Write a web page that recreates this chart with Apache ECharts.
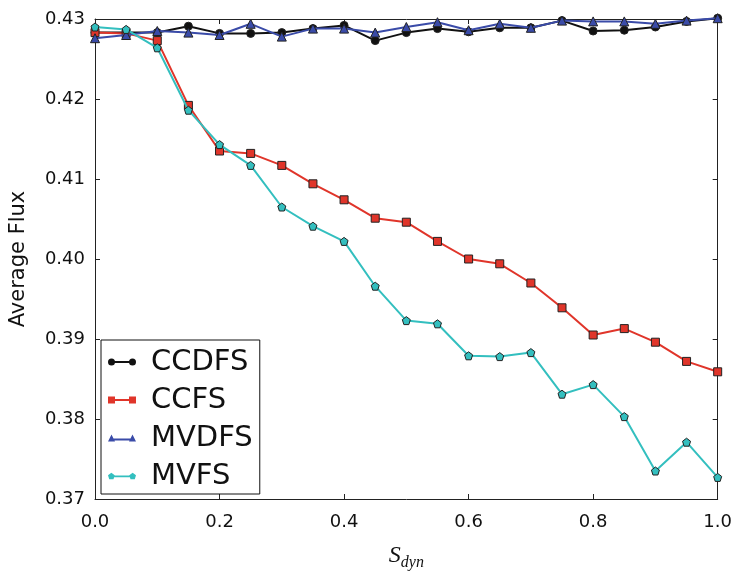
<!DOCTYPE html>
<html>
<head>
<meta charset="utf-8">
<script src="https://cdn.jsdelivr.net/npm/echarts@6/dist/echarts.min.js"></script>
<style>html,body{margin:0;padding:0;background:#fff;}#c{width:735px;height:576px;}</style>
</head>
<body>
<div id="c"></div>
<script>
var sDyn = [0.0,0.05,0.10,0.15,0.20,0.25,0.30,0.35,0.40,0.45,0.50,0.55,0.60,0.65,0.70,0.75,0.80,0.85,0.90,0.95,1.0];
var ccdfs = [0.4283,0.4283,0.4283,0.4291,0.4282,0.4282,0.4283,0.4288,0.4292,0.4273,0.4283,0.4288,0.4284,0.4289,0.4289,0.4298,0.4285,0.4286,0.4290,0.4297,0.4301];
var ccfs  = [0.4283,0.4282,0.4273,0.4192,0.4135,0.4132,0.4117,0.4094,0.4074,0.4051,0.4046,0.4022,0.4000,0.3994,0.3970,0.3939,0.3905,0.3913,0.3896,0.3872,0.3859];
var mvdfs = [0.4276,0.4280,0.4285,0.4283,0.4280,0.4294,0.4278,0.4288,0.4288,0.4283,0.4290,0.4296,0.4286,0.4294,0.4289,0.4298,0.4297,0.4297,0.4294,0.4298,0.4301];
var mvfs  = [0.4290,0.4287,0.4264,0.4186,0.4143,0.4117,0.4065,0.4041,0.4022,0.3966,0.3923,0.3919,0.3879,0.3878,0.3883,0.3831,0.3843,0.3803,0.3735,0.3771,0.3727];
var seriesNames = ['CCDFS','CCFS','MVDFS','MVFS'];
var xTicks = [0.0,0.2,0.4,0.6,0.8,1.0];
var yTicks = [0.37,0.38,0.39,0.40,0.41,0.42,0.43];

var colors = ['#111111','#e0352a','#3a4ba8','#33bfbf'];
var pent = 'path://M0,-1 L0.951,-0.309 L0.588,0.809 L-0.588,0.809 L-0.951,-0.309 Z';
var symbols = ['circle','rect','triangle',pent];
var sizes = [8,8,9,8];
var icons = [
  'path://M0,3.5 A3.5,3.5 0 1,1 7,3.5 A3.5,3.5 0 1,1 0,3.5 Z M3.5,2.6 L24.5,2.6 L24.5,4.4 L3.5,4.4 Z M21,3.5 A3.5,3.5 0 1,1 28,3.5 A3.5,3.5 0 1,1 21,3.5 Z',
  'path://M0,0 L7,0 L7,7 L0,7 Z M7,2.6 L21,2.6 L21,4.4 L7,4.4 Z M21,0 L28,0 L28,7 L21,7 Z',
  'path://M0,7 L3.5,0 L7,7 Z M5,4.1 L23,4.1 L23,5.9 L5,5.9 Z M21,7 L24.5,0 L28,7 Z',
  'path://M3.5,0 L6.8,2.4 L5.6,6.3 L1.4,6.3 L0.2,2.4 Z M3.5,2.6 L24.5,2.6 L24.5,4.4 L3.5,4.4 Z M24.5,0 L27.8,2.4 L26.6,6.3 L22.4,6.3 L21.2,2.4 Z'
];
var values = [ccdfs, ccfs, mvdfs, mvfs];

var series = seriesNames.map(function(n, i){
  return {
    name: n, type: 'line', clip: false,
    data: sDyn.map(function(x, j){ return [x, values[i][j]]; }),
    symbol: symbols[i], symbolSize: sizes[i], showSymbol: true,
    lineStyle: {color: colors[i], width: 2},
    itemStyle: {color: colors[i], borderColor: '#222', borderWidth: 1},
    emphasis: {disabled: true},
    z: 2 + i
  };
});

var tickFont = {fontFamily: 'DejaVu Sans', fontSize: 18, color: '#111'};
var chart = echarts.init(document.getElementById('c'), null, {renderer: 'canvas'});
chart.setOption({
  animation: false,
  backgroundColor: '#fff',
  grid: {left: 93, right: 15.5, top: 19, bottom: 73, containLabel: false},
  legend: {
    orient: 'vertical', left: 101, top: 340,
    data: seriesNames.map(function(n, i){ return {name: n, icon: icons[i]}; }),
    itemWidth: 28, itemHeight: 7, itemGap: 8,
    backgroundColor: '#fff', borderColor: '#111', borderWidth: 1, borderRadius: 0,
    padding: [7, 7, 3, 7],
    itemStyle: {borderWidth: 0},
    lineStyle: {width: 0},
    textStyle: {fontFamily: 'DejaVu Sans', fontSize: 29, color: '#111', lineHeight: 30, padding: [0,0,0,10]},
    z: 10
  },
  xAxis: [{
    type: 'value', min: 0, max: 1, interval: 0.2, position: 'bottom',
    name: '{s|S}{d|dyn}', nameLocation: 'middle', nameGap: 42,
    nameTextStyle: {rich: {
      s: {fontFamily: 'Liberation Serif', fontStyle: 'italic', fontSize: 24, color: '#111'},
      d: {fontFamily: 'Liberation Serif', fontStyle: 'italic', fontSize: 16, color: '#111', padding: [14,0,0,0]}
    }},
    axisLine: {show: true, lineStyle: {color: '#222', width: 1}},
    axisTick: {show: true, inside: true, length: 5, lineStyle: {color: '#222'}},
    axisLabel: Object.assign({margin: 14, formatter: function(v){ return v.toFixed(1); }}, tickFont),
    splitLine: {show: false}
  }, {
    type: 'value', min: 0, max: 1, interval: 0.2, position: 'top',
    axisLine: {show: true, onZero: false, lineStyle: {color: '#222', width: 1}},
    axisTick: {show: true, inside: true, length: 5, lineStyle: {color: '#222'}},
    axisLabel: {show: false}, splitLine: {show: false}
  }],
  yAxis: [{
    type: 'value', min: 0.37, max: 0.43, interval: 0.01, position: 'left',
    name: 'Average Flux', nameLocation: 'middle', nameGap: 66, nameRotate: 90,
    nameTextStyle: {fontFamily: 'DejaVu Sans', fontSize: 21, color: '#111'},
    axisLine: {show: true, lineStyle: {color: '#222', width: 1}},
    axisTick: {show: true, inside: true, length: 5, lineStyle: {color: '#222'}},
    axisLabel: Object.assign({margin: 10, formatter: function(v){ return v.toFixed(2); }}, tickFont),
    splitLine: {show: false}
  }, {
    type: 'value', min: 0.37, max: 0.43, interval: 0.01, position: 'right',
    axisLine: {show: true, onZero: false, lineStyle: {color: '#222', width: 1}},
    axisTick: {show: true, inside: true, length: 5, lineStyle: {color: '#222'}},
    axisLabel: {show: false}, splitLine: {show: false}
  }],
  series: series
});
</script>
</body>
</html>
